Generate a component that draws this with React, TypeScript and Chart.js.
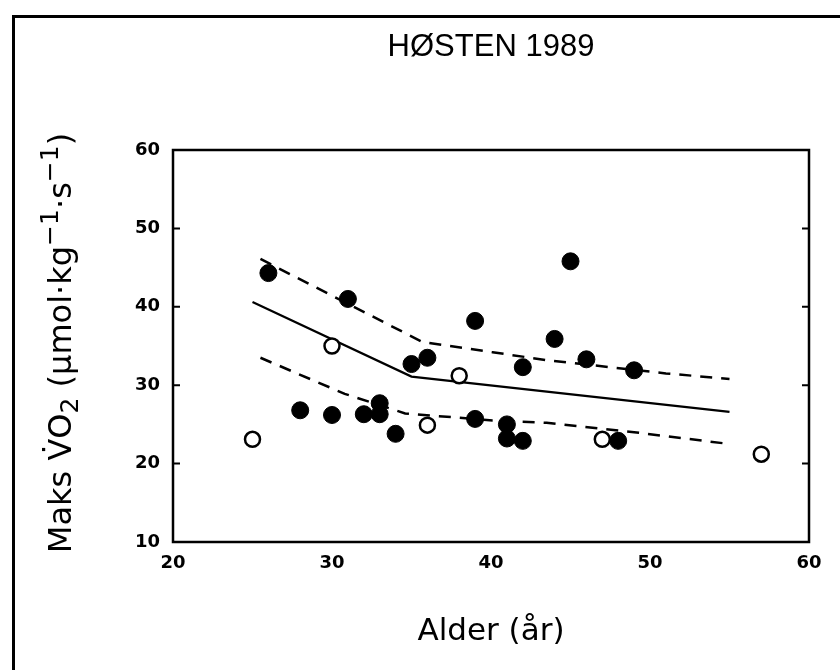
import { useEffect, useRef } from "react";
import { Chart, registerables } from "chart.js";

Chart.register(...registerables);

// Titles and axis ticks
const chartTitle = "HØSTEN 1989";
const xAxisTitle = "Alder (år)";
const xTicks = [20, 30, 40, 50, 60];
const yTicks = [10, 20, 30, 40, 50, 60];

// Filled markers: age (years) and max VO2
const filledAges = [26, 31, 35, 36, 39, 28, 30, 32, 33, 33, 34, 39, 45, 44, 42, 46, 49, 41, 41, 42, 48];
const filledVo2 = [44.3, 41.0, 32.7, 33.5, 38.2, 26.8, 26.2, 26.3, 27.7, 26.3, 23.8, 25.7, 45.8, 35.9, 32.3, 33.3, 31.9, 25.0, 23.2, 22.9, 22.9];

// Open markers
const openAges = [25, 30, 36, 38, 47, 57];
const openVo2 = [23.1, 35.0, 24.9, 31.2, 23.1, 21.2];

// Fitted line (solid) and its upper / lower bands (dashed)
const fitAges = [25, 35, 55];
const fitVo2 = [40.6, 31.1, 26.6];
const upperAges = [25.5, 35.7, 40.1, 43.5, 51, 55];
const upperVo2 = [46.1, 35.5, 34.2, 33.2, 31.5, 30.8];
const lowerAges = [25.5, 30.8, 34.6, 40.1, 43.5, 49, 55];
const lowerVo2 = [33.5, 28.9, 26.4, 25.5, 25.2, 24.0, 22.5];

const pairs = (xs: number[], ys: number[]) => xs.map((x, i) => ({ x, y: ys[i] }));

const LABEL_FONT = "'DejaVu Sans', sans-serif";

// Frame around the plot, inward y ticks, page border, titles
const decorations = {
  id: "decorations",
  beforeDatasetsDraw(chart: any) {
    const { ctx, chartArea } = chart;
    const { left, right, top, bottom } = chartArea;
    const y = chart.scales.y;
    ctx.save();
    ctx.strokeStyle = "#000";
    ctx.lineWidth = 2.5;
    ctx.strokeRect(left, top, right - left, bottom - top);
    ctx.lineWidth = 2;
    ctx.beginPath();
    for (const v of yTicks) {
      const py = y.getPixelForValue(v);
      ctx.moveTo(left, py);
      ctx.lineTo(left + 7, py);
      ctx.moveTo(right, py);
      ctx.lineTo(right - 7, py);
    }
    ctx.stroke();
    ctx.restore();
  },
  afterDraw(chart: any) {
    const { ctx, chartArea, width, height } = chart;
    const cx = (chartArea.left + chartArea.right) / 2;
    ctx.save();
    // page border
    ctx.strokeStyle = "#000";
    ctx.lineWidth = 3;
    ctx.beginPath();
    ctx.moveTo(13.5, height);
    ctx.lineTo(13.5, 16.5);
    ctx.lineTo(width, 16.5);
    ctx.stroke();

    ctx.fillStyle = "#000";
    ctx.textAlign = "center";
    ctx.textBaseline = "middle";

    // chart title
    ctx.font = "31px 'Liberation Sans', Arial, sans-serif";
    ctx.fillText(chartTitle, cx, 47);

    // x axis title
    ctx.font = `31px ${LABEL_FONT}`;
    ctx.fillText(xAxisTitle, cx, 632);

    // y axis title with sub/superscripts, rotated
    const size = 32;
    const small = 25;
    const parts: { t: string; k: "n" | "sub" | "sup" }[] = [
      { t: "Maks V\u0307O", k: "n" },
      { t: "2", k: "sub" },
      { t: " (\u03bcmol\u00b7kg", k: "n" },
      { t: "\u22121", k: "sup" },
      { t: "\u00b7s", k: "n" },
      { t: "\u22121", k: "sup" },
      { t: ")", k: "n" },
    ];
    const fontFor = (k: string) => `${k === "n" ? size : small}px ${LABEL_FONT}`;
    let total = 0;
    for (const p of parts) {
      ctx.font = fontFor(p.k);
      total += ctx.measureText(p.t).width;
    }
    ctx.translate(59, 343);
    ctx.rotate(-Math.PI / 2);
    ctx.textAlign = "left";
    ctx.textBaseline = "alphabetic";
    let x = -total / 2;
    const base = size * 0.36;
    for (const p of parts) {
      ctx.font = fontFor(p.k);
      const dy = p.k === "sub" ? base + 7 : p.k === "sup" ? base - 13 : base;
      ctx.fillText(p.t, x, dy);
      x += ctx.measureText(p.t).width;
    }
    ctx.restore();
  },
};

export default function App() {
  const canvasRef = useRef<HTMLCanvasElement | null>(null);

  useEffect(() => {
    const canvas = canvasRef.current;
    if (!canvas) return;
    const chart = new Chart(canvas, {
      type: "scatter",
      data: {
        datasets: [
          {
            label: "filled",
            data: pairs(filledAges, filledVo2),
            pointRadius: 8.5,
            pointBackgroundColor: "#000",
            pointBorderColor: "#000",
            pointBorderWidth: 1,
            showLine: false,
            order: 0,
          },
          {
            label: "open",
            data: pairs(openAges, openVo2),
            pointRadius: 7.5,
            pointBackgroundColor: "#fff",
            pointBorderColor: "#000",
            pointBorderWidth: 2.5,
            showLine: false,
            order: 0,
          },
          {
            label: "fit",
            data: pairs(fitAges, fitVo2),
            showLine: true,
            borderColor: "#000",
            borderWidth: 2.2,
            pointRadius: 0,
            order: 1,
          },
          {
            label: "upper",
            data: pairs(upperAges, upperVo2),
            showLine: true,
            borderColor: "#000",
            borderWidth: 2.5,
            borderDash: [12, 9],
            pointRadius: 0,
            order: 1,
          },
          {
            label: "lower",
            data: pairs(lowerAges, lowerVo2),
            showLine: true,
            borderColor: "#000",
            borderWidth: 2.5,
            borderDash: [12, 9],
            pointRadius: 0,
            order: 1,
          },
        ],
      },
      options: {
        responsive: false,
        animation: false,
        events: [],
        layout: { padding: { left: 0, right: 31, top: 150, bottom: 0 } },
        plugins: {
          legend: { display: false },
          tooltip: { enabled: false },
          title: { display: false },
        },
        scales: {
          x: {
            type: "linear",
            min: 20,
            max: 60,
            afterBuildTicks(scale: any) {
              scale.ticks = xTicks.map((v) => ({ value: v }));
            },
            afterFit(scale: any) {
              scale.height = 128;
            },
            grid: { display: false, drawTicks: false },
            border: { display: false },
            ticks: {
              color: "#000",
              padding: 11,
              font: { family: LABEL_FONT, size: 18, weight: "bold" },
              maxRotation: 0,
            },
          },
          y: {
            type: "linear",
            min: 10,
            max: 60,
            afterBuildTicks(scale: any) {
              scale.ticks = yTicks.map((v) => ({ value: v }));
            },
            afterFit(scale: any) {
              scale.width = 173;
            },
            grid: { display: false, drawTicks: false },
            border: { display: false },
            ticks: {
              color: "#000",
              padding: 13,
              font: { family: LABEL_FONT, size: 18, weight: "bold" },
            },
          },
        },
      },
      plugins: [decorations],
    });
    return () => chart.destroy();
  }, []);

  return (
    <div style={{ position: "absolute", left: 0, top: 0, width: 840, height: 670, background: "#fff" }}>
      <canvas ref={canvasRef} width={840} height={670} style={{ display: "block" }} />
    </div>
  );
}
